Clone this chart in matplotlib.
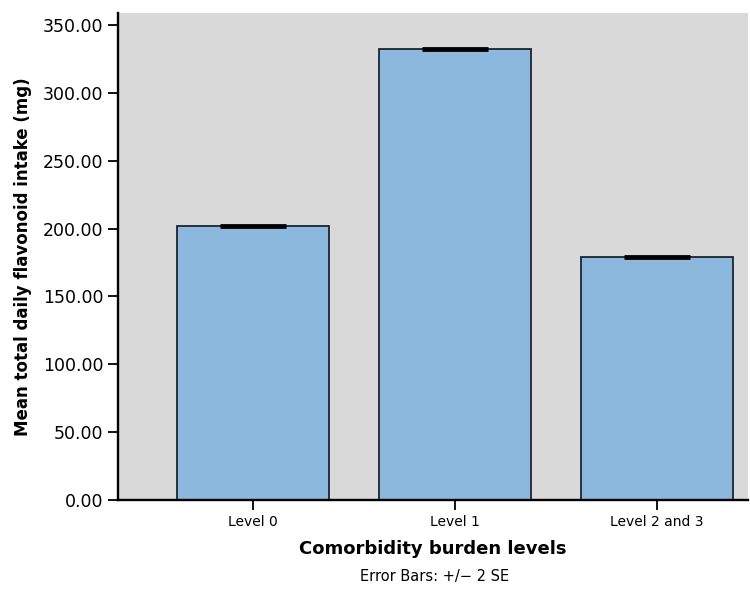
import matplotlib
matplotlib.use("Agg")
import matplotlib.pyplot as plt
from matplotlib.ticker import FormatStrFormatter

categories = ["Level 0", "Level 1", "Level 2 and 3"]
means = [201.8, 332.6, 179.2]
err = [0.6, 0.9, 0.6]
yticks = [0, 50, 100, 150, 200, 250, 300, 350]

fig = plt.figure(figsize=(7.5, 6), dpi=100)
ax = fig.add_axes([0.157, 0.1667, 0.840, 0.8113])
ax.set_facecolor("#d9d9d9")
x = list(range(len(categories)))
ax.bar(x, means, width=0.75, color="#8cb8de", edgecolor="#1c2430", linewidth=1.3, zorder=2)
ax.errorbar(x, means, yerr=err, fmt="none", ecolor="black", elinewidth=1.2,
            capsize=24, capthick=2.0, zorder=3)
ax.set_xlim(-0.67, 2.45)
ax.set_ylim(0, 358.8)
ax.set_yticks(yticks)
ax.yaxis.set_major_formatter(FormatStrFormatter("%.2f"))
ax.set_xticks(x)
ax.set_xticklabels(categories, fontsize=10)
ax.tick_params(axis="y", labelsize=12.5, length=7, width=1.3, direction="out")
ax.tick_params(axis="x", length=7, width=1.3, direction="out", pad=4)
for s in ["top", "right"]:
    ax.spines[s].set_visible(False)
for s in ["left", "bottom"]:
    ax.spines[s].set_linewidth(1.7)
    ax.spines[s].set_color("black")
ax.set_ylabel("Mean total daily flavonoid intake (mg)", fontsize=12, fontweight="bold", labelpad=8)
ax.set_xlabel("Comorbidity burden levels", fontsize=13, fontweight="bold", labelpad=8)
fig.text(0.58, 0.04, "Error Bars: +/\u2212 2 SE", ha="center", va="center", fontsize=10.5)
fig.savefig("out.png", dpi=100)
